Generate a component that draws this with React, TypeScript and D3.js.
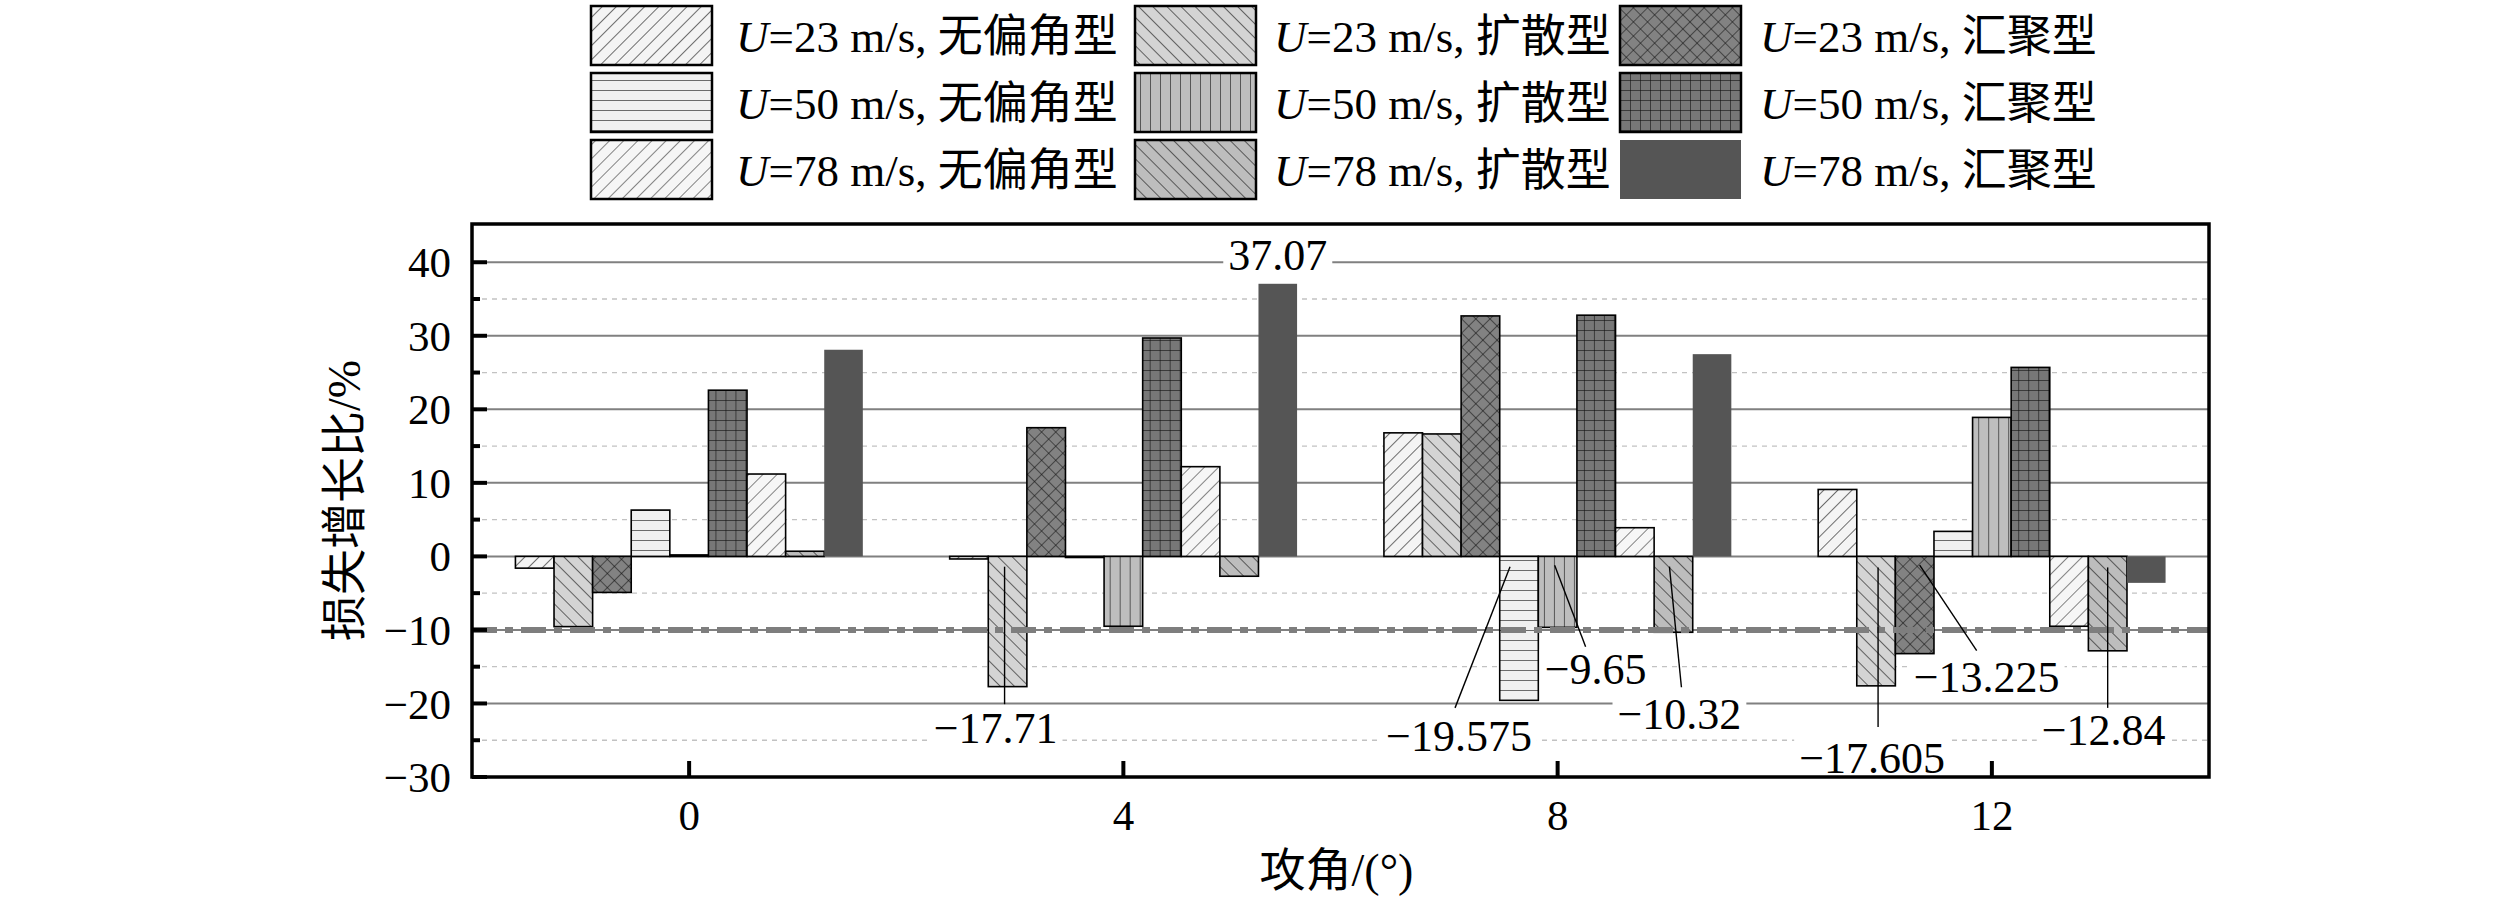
import React, { useEffect, useRef } from 'react';
import * as d3 from 'd3';

// categories
const angles = ['0', '4', '8', '12'];
const speeds = ['23', '50', '78'];
const layouts = ['无偏角型', '扩散型', '汇聚型'];

// loss growth ratio (%) per series, one value per attack angle
const u23None = [-1.6, -0.35, 16.8, 9.1];
const u23Diverge = [-9.55, -17.71, 16.65, -17.605];
const u23Converge = [-4.9, 17.5, 32.7, -13.225];
const u50None = [6.3, -0.15, -19.575, 3.4];
const u50Diverge = [0.2, -9.5, -9.65, 18.9];
const u50Converge = [22.6, 29.7, 32.8, 25.7];
const u78None = [11.2, 12.2, 3.9, -9.5];
const u78Diverge = [0.7, -2.7, -10.32, -12.84];
const u78Converge = [28.1, 37.07, 27.5, -3.6];

const yTicks = [-30, -20, -10, 0, 10, 20, 30, 40];
const yMinorTicks = [-25, -15, -5, 5, 15, 25, 35];
const thresholdValue = -10;

// annotated bars: series index, angle index, text
const calloutSeries = [1, 8, 3, 4, 7, 1, 2, 7];
const calloutAngle = [1, 1, 2, 2, 2, 3, 3, 3];
const calloutText = ['−17.71', '37.07', '−19.575', '−9.65', '−10.32', '−17.605', '−13.225', '−12.84'];

const seriesValues = [
  u23None, u23Diverge, u23Converge,
  u50None, u50Diverge, u50Converge,
  u78None, u78Diverge, u78Converge,
];

const SERIF = "'Liberation Serif', 'Times New Roman', 'Noto Sans CJK SC', serif";

// label placement: text dx from bar centre (px), text centre value, leader start/end [dx, value]
const calloutLayout = [
  { dx: -12, ty: -23.3, from: [-3, -1.4], to: [-3, -20.1] },
  { dx: 0, ty: 41, from: null, to: null },
  { dx: -60, ty: -24.4, from: [-9, -1.4], to: [-64, -20.6] },
  { dx: 38, ty: -15.3, from: [-3, -1.2], to: [28, -12.3] },
  { dx: 6, ty: -21.4, from: [-4, -1.4], to: [8, -17.8] },
  { dx: -4, ty: -27.3, from: [2, -1.5], to: [2, -23.2] },
  { dx: 72, ty: -16.3, from: [5, -1.2], to: [62, -12.8] },
  { dx: -4, ty: -23.6, from: [0, -1.5], to: [0, -20.6] },
];

const seriesFill = [
  'url(#p-u23none)', 'url(#p-u23div)', 'url(#p-u23conv)',
  'url(#p-u50none)', 'url(#p-u50div)', 'url(#p-u50conv)',
  'url(#p-u78none)', 'url(#p-u78div)', '#555555',
];

const App: React.FC = () => {
  const ref = useRef<SVGSVGElement>(null);

  useEffect(() => {
    const svg = d3.select(ref.current);
    svg.selectAll('*').remove();

    const left = 472;
    const right = 2209;
    const top = 224;
    const bottom = 777;

    // patterns
    const defs = svg.append('defs');
    const hatch = (id: string, bg: string, angle: number, gap: number, sw = 1.2) => {
      const p = defs
        .append('pattern')
        .attr('id', id)
        .attr('patternUnits', 'userSpaceOnUse')
        .attr('width', gap)
        .attr('height', gap)
        .attr('patternTransform', `rotate(${angle})`);
      p.append('rect').attr('width', gap).attr('height', gap).attr('fill', bg);
      p.append('line').attr('x1', 0).attr('y1', 0).attr('x2', 0).attr('y2', gap)
        .attr('stroke', '#111').attr('stroke-width', sw);
      return p;
    };
    hatch('p-u23none', '#f4f4f4', 45, 10);
    hatch('p-u23div', '#d4d4d4', -45, 10);
    hatch('p-u78none', '#f6f6f6', 45, 10, 1);
    hatch('p-u78div', '#bdbdbd', -45, 10);
    hatch('p-u50none', '#f0f0f0', 90, 10);
    hatch('p-u50div', '#bebebe', 0, 10);

    const cross = defs.append('pattern').attr('id', 'p-u23conv')
      .attr('patternUnits', 'userSpaceOnUse').attr('width', 10).attr('height', 10)
      .attr('patternTransform', 'rotate(45)');
    cross.append('rect').attr('width', 10).attr('height', 10).attr('fill', '#828282');
    cross.append('line').attr('x1', 0).attr('y1', 0).attr('x2', 0).attr('y2', 10).attr('stroke', '#111').attr('stroke-width', 1.1);
    cross.append('line').attr('x1', 0).attr('y1', 0).attr('x2', 10).attr('y2', 0).attr('stroke', '#111').attr('stroke-width', 1.1);

    const grid = defs.append('pattern').attr('id', 'p-u50conv')
      .attr('patternUnits', 'userSpaceOnUse').attr('width', 10).attr('height', 10);
    grid.append('rect').attr('width', 10).attr('height', 10).attr('fill', '#777777');
    grid.append('line').attr('x1', 0).attr('y1', 0).attr('x2', 0).attr('y2', 10).attr('stroke', '#111').attr('stroke-width', 1.2);
    grid.append('line').attr('x1', 0).attr('y1', 0).attr('x2', 10).attr('y2', 0).attr('stroke', '#111').attr('stroke-width', 1.2);

    const x0 = d3.scaleBand().domain(angles).range([left, right]).paddingInner(0.2).paddingOuter(0.1);
    const x1 = d3.scaleBand<number>().domain(d3.range(seriesValues.length)).range([0, x0.bandwidth()]);
    const y = d3.scaleLinear().domain([-30, 45.2]).range([bottom, top]);
    const xc = (a: string) => (x0(a) as number) + x0.bandwidth() / 2;

    // grid
    svg.append('g').selectAll('line').data(yMinorTicks).enter().append('line')
      .attr('x1', left).attr('x2', right).attr('y1', (d) => y(d)).attr('y2', (d) => y(d))
      .attr('stroke', '#c2c2c2').attr('stroke-width', 1.3).attr('stroke-dasharray', '5,5');
    svg.append('g').selectAll('line').data(yTicks.filter((d) => d > -30)).enter().append('line')
      .attr('x1', left).attr('x2', right).attr('y1', (d) => y(d)).attr('y2', (d) => y(d))
      .attr('stroke', '#808080').attr('stroke-width', 2);

    // bars
    const groups = svg.append('g').selectAll('g').data(angles).enter().append('g')
      .attr('transform', (a) => `translate(${x0(a)},0)`);
    groups.selectAll('rect')
      .data((a, ai) => seriesValues.map((vals, si) => ({ si, v: vals[ai] })))
      .enter().append('rect')
      .attr('x', (d) => x1(d.si) as number)
      .attr('width', x1.bandwidth())
      .attr('y', (d) => y(Math.max(0, d.v)))
      .attr('height', (d) => Math.abs(y(d.v) - y(0)))
      .attr('fill', (d) => seriesFill[d.si])
      .attr('stroke', (d) => (d.si === 8 ? 'none' : '#000'))
      .attr('stroke-width', 1.6);

    // threshold line
    svg.append('line')
      .attr('x1', left).attr('x2', right).attr('y1', y(thresholdValue)).attr('y2', y(thresholdValue))
      .attr('stroke', '#7e7e7e').attr('stroke-width', 6).attr('stroke-dasharray', '25,8,8,8');

    // callouts
    const cg = svg.append('g');
    calloutText.forEach((txt, i) => {
      const si = calloutSeries[i];
      const a = angles[calloutAngle[i]];
      const bx = (x0(a) as number) + (x1(si) as number) + x1.bandwidth() / 2;
      const lay = calloutLayout[i];
      if (lay.from && lay.to) {
        cg.append('line')
          .attr('x1', bx + lay.from[0]).attr('y1', y(lay.from[1]))
          .attr('x2', bx + lay.to[0]).attr('y2', y(lay.to[1]))
          .attr('stroke', '#000').attr('stroke-width', 1.4);
      }
      const t = cg.append('text')
        .attr('x', bx + lay.dx).attr('y', y(lay.ty)).attr('dy', '0.35em')
        .attr('text-anchor', 'middle')
        .style('font-family', SERIF).style('font-size', '44px')
        .text(txt);
      const bb = (t.node() as SVGTextElement).getBBox();
      cg.insert('rect', () => t.node() as SVGTextElement)
        .attr('x', bb.x - 5).attr('y', bb.y + 4).attr('width', bb.width + 10).attr('height', bb.height - 8)
        .attr('fill', '#fff');
    });

    // frame
    svg.append('rect').attr('x', left).attr('y', top).attr('width', right - left).attr('height', bottom - top)
      .attr('fill', 'none').attr('stroke', '#000').attr('stroke-width', 3.5);

    // y ticks
    svg.append('g').selectAll('line').data(yTicks).enter().append('line')
      .attr('x1', left).attr('x2', left + 15).attr('y1', (d) => y(d)).attr('y2', (d) => y(d))
      .attr('stroke', '#000').attr('stroke-width', 4);
    svg.append('g').selectAll('line').data(yMinorTicks).enter().append('line')
      .attr('x1', left).attr('x2', left + 8).attr('y1', (d) => y(d)).attr('y2', (d) => y(d))
      .attr('stroke', '#000').attr('stroke-width', 4);
    svg.append('g').selectAll('text').data(yTicks).enter().append('text')
      .attr('x', 451).attr('y', (d) => y(d)).attr('dy', '0.35em').attr('text-anchor', 'end')
      .style('font-family', SERIF).style('font-size', '43px')
      .text((d) => (d < 0 ? `−${Math.abs(d)}` : `${d}`));

    // x ticks
    svg.append('g').selectAll('line').data(angles).enter().append('line')
      .attr('x1', xc).attr('x2', xc).attr('y1', bottom).attr('y2', bottom - 16)
      .attr('stroke', '#000').attr('stroke-width', 4);
    svg.append('g').selectAll('text').data(angles).enter().append('text')
      .attr('x', xc).attr('y', 830).attr('text-anchor', 'middle')
      .style('font-family', SERIF).style('font-size', '43px')
      .text((d) => d);

    // axis titles
    svg.append('text')
      .attr('transform', `translate(360,${(top + bottom) / 2}) rotate(-90)`)
      .attr('text-anchor', 'middle')
      .style('font-family', SERIF).style('font-size', '46px')
      .text('损失增长比/%');
    svg.append('text')
      .attr('x', (left + right) / 2 - 4).attr('y', 886).attr('text-anchor', 'middle')
      .style('font-family', SERIF).style('font-size', '46px')
      .text('攻角/(°)');

    // legend
    const colX = [591, 1135, 1620];
    const textGap = [145, 139, 140];
    const rowY = [6, 73, 140];
    const lg = svg.append('g');
    speeds.forEach((sp, r) => {
      layouts.forEach((lay, c) => {
        const si = r * 3 + c;
        lg.append('rect')
          .attr('x', colX[c]).attr('y', rowY[r]).attr('width', 121).attr('height', 59)
          .attr('fill', seriesFill[si])
          .attr('stroke', si === 8 ? 'none' : '#000').attr('stroke-width', 2.5);
        const t = lg.append('text')
          .attr('x', colX[c] + textGap[c]).attr('y', rowY[r] + 30).attr('dy', '0.35em')
          .style('font-family', SERIF).style('font-size', '45px');
        t.append('tspan').style('font-style', 'italic').text('U');
        t.append('tspan').text(`=${sp} m/s, ${lay}`);
      });
    });
  }, []);

  return (
    <svg
      ref={ref}
      width={2520}
      height={900}
      style={{ position: 'absolute', left: 0, top: 0, background: '#fff', display: 'block' }}
    />
  );
};

export default App;
